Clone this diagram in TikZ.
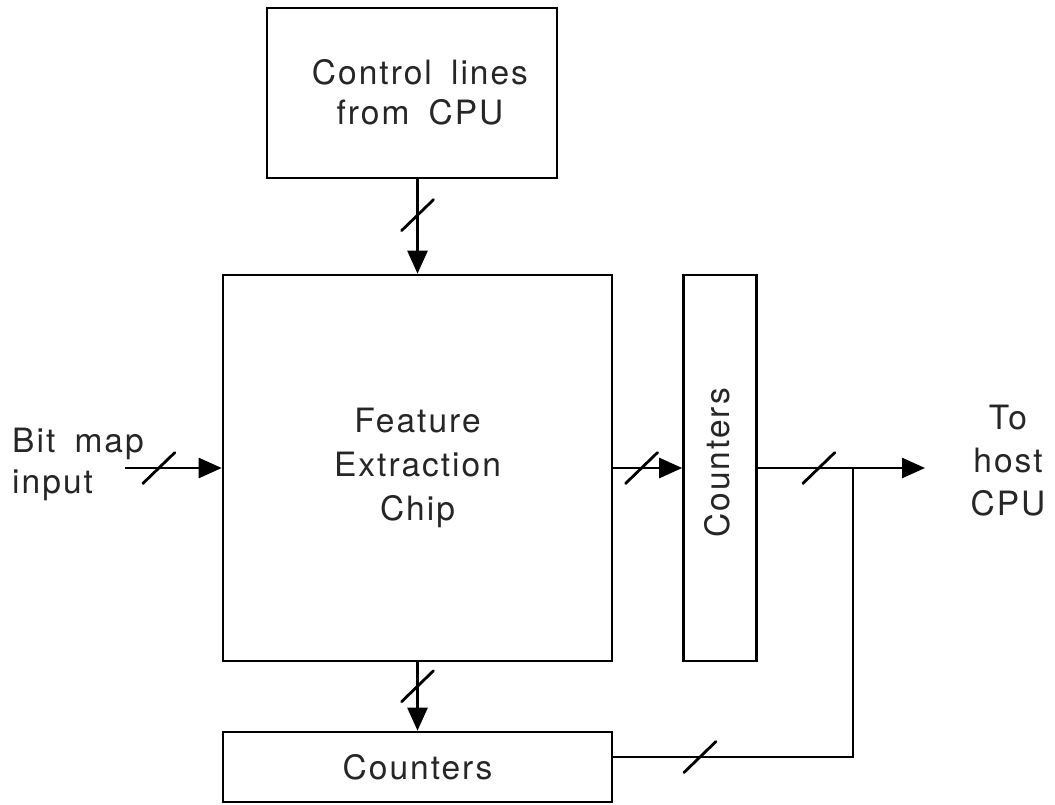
\documentclass[tikz,border=0pt]{standalone}
\usepackage{fontspec}
\setmainfont{TeX Gyre Heros}[LetterSpace=6,WordSpace=1.7]
\usetikzlibrary{arrows.meta}
\newcommand\dfont[1]{\fontsize{33.5pt}{#1}\selectfont}
\begin{document}
\begin{tikzpicture}[x=1pt,y=-1pt,
  blk/.style={draw=black, line width=2.6pt, inner sep=0pt, text=black!85},
  lbl/.style={inner sep=0pt, text=black!85},
  conn/.style={-{Triangle[length=23pt,width=20pt]}, line width=2.6pt},
  wire/.style={line width=2.6pt},
  busmark/.style={line width=2.8pt, line cap=round}]
\useasboundingbox (0,0) rectangle (1055,804);

% blocks
\node[blk, minimum width=290pt, minimum height=170pt] (ctrl) at (412,93) {};
\node[lbl, align=center, font=\dfont{40pt}] (ctrltext) at (420,92) {Control lines\\from CPU};
\node[blk, minimum width=389pt, minimum height=386pt, align=center, font=\dfont{44pt}] (main) at (417.5,468) {Feature\\Extraction\\Chip};
\node[blk, minimum width=73pt, minimum height=386pt] (cnt) at (720,468) {};
\node[lbl, rotate=90, font=\dfont{44pt}] (cnttext) at (717,463) {Counters};
\node[blk, minimum width=389pt, minimum height=70pt, font=\dfont{44pt}] (bot) at (417.5,767) {Counters};

% outside labels
\node[lbl, anchor=north west, align=left, font=\dfont{41pt}] (bitmap) at (12,428) {Bit map\\input};
\node[lbl, anchor=north, align=center, font=\dfont{43pt}] (host) at (1008,405) {To\\host\\CPU};

% free ends
\coordinate (inp) at (125,468);
\coordinate (tip) at (925,468);
\coordinate (j) at (853,468);
\coordinate (k) at (853,757);
\coordinate (b1) at (612,757);

% connectors
\draw[conn] (main.north |- ctrl.south) -- (main.north) coordinate[pos=0.38] (s2);
\draw[conn] (main.south) -- (main.south |- bot.north) coordinate[pos=0.35] (s3);
\draw[conn] (inp) -- (main.west) coordinate[pos=0.35] (s1);
\draw[conn] (main.east) -- (cnt.west) coordinate[pos=0.41] (s4);
\draw[conn] (cnt.east) -- (tip) coordinate[pos=0.365] (s5);
\draw[wire] (j) -- (k) -- (b1) coordinate[pos=0.635] (s6);

% bus slashes
\foreach \s in {s1,s2,s3,s4,s5,s6}
  \draw[busmark] (\s) +(-16,15.5) -- +(16,-15.5);
\end{tikzpicture}
\end{document}
